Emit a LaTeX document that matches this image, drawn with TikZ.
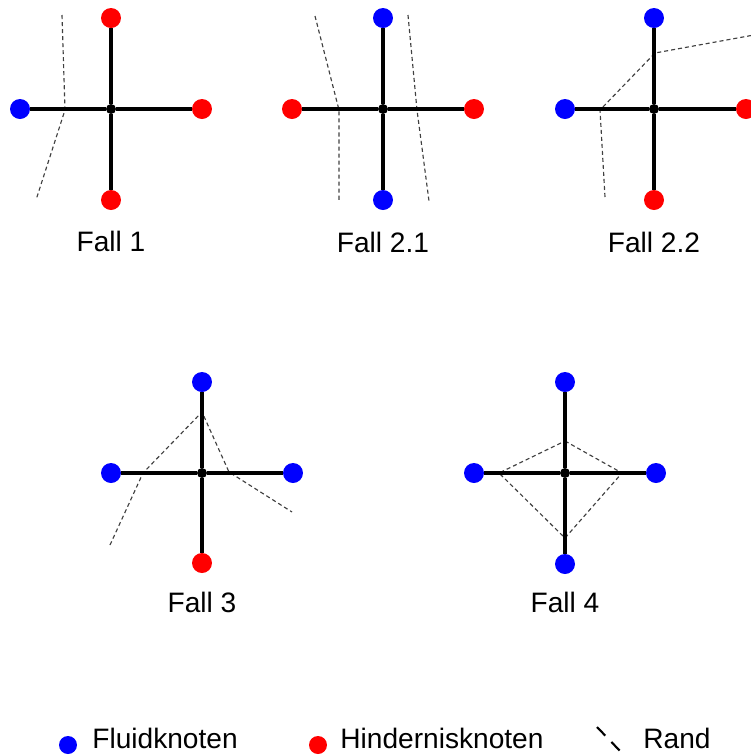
\documentclass[tikz,border=0pt]{standalone}
\usepackage{fontspec}
\setmainfont{Liberation Sans}
\usepackage{tikz}
\definecolor{fluidblue}{RGB}{0,0,255}
\definecolor{hindred}{RGB}{255,0,0}
\tikzset{
  fluid/.style={circle, fill=fluidblue, inner sep=0pt, minimum size=0.4cm},
  hind/.style={circle, fill=hindred, inner sep=0pt, minimum size=0.4cm},
  knot/.style={circle, fill=black, inner sep=0pt, minimum size=0.2cm},
  stab/.style={line width=2pt, black},
  rand/.style={line width=0.65pt, black!75, dash pattern=on 2.3pt off 1.7pt},
  fall/.style={anchor=base, inner sep=0pt, font=\fontsize{16}{19}\selectfont},
  legtext/.style={anchor=base west, inner sep=0pt, font=\fontsize{16}{19}\selectfont},
}

\begin{document}
\begin{tikzpicture}[x=0.02cm, y=-0.02cm]
\useasboundingbox (0,0) rectangle (751,755);

% Fall 1
\begin{scope}[shift={(111,109)}]
    \draw[rand] (-49,-94) -- (-46,1) -- (-75,91);
    \node[knot] (c1) at (0,0) {};
    \node[hind] (n1) at (0,-91) {};
    \node[hind] (s1) at (0,91) {};
    \node[fluid] (w1) at (-91,0) {};
    \node[hind] (e1) at (91,0) {};
    \draw[stab] (c1) -- (n1);
    \draw[stab] (c1) -- (s1);
    \draw[stab] (c1) -- (w1);
    \draw[stab] (c1) -- (e1);
    \node[fall] (l1) at (0,142) {Fall 1};
\end{scope}

% Fall 2.1
\begin{scope}[shift={(383,109)}]
    \draw[rand] (-68,-93) -- (-44,1) -- (-44,93);
    \draw[rand] (25,-94) -- (34,1) -- (46,92);
    \node[knot] (c21) at (0,0) {};
    \node[fluid] (n21) at (0,-91) {};
    \node[fluid] (s21) at (0,91) {};
    \node[hind] (w21) at (-91,0) {};
    \node[hind] (e21) at (91,0) {};
    \draw[stab] (c21) -- (n21);
    \draw[stab] (c21) -- (s21);
    \draw[stab] (c21) -- (w21);
    \draw[stab] (c21) -- (e21);
    \node[fall] (l21) at (0,143) {Fall 2.1};
\end{scope}

% Fall 2.2
\begin{scope}[shift={(654,109)}]
    \draw[rand] (-49,88) -- (-54,1) -- (1,-56) -- (100,-74);
    \node[knot] (c22) at (0,0) {};
    \node[fluid] (n22) at (0,-91) {};
    \node[hind] (s22) at (0,91) {};
    \node[fluid] (w22) at (-89,0) {};
    \node[hind] (e22) at (92,0) {};
    \draw[stab] (c22) -- (n22);
    \draw[stab] (c22) -- (s22);
    \draw[stab] (c22) -- (w22);
    \draw[stab] (c22) -- (e22);
    \node[fall] (l22) at (0,143) {Fall 2.2};
\end{scope}

% Fall 3
\begin{scope}[shift={(202,473)}]
    \draw[rand] (-92,72) -- (-59,0) -- (0,-61) -- (27,-1) -- (90,39);
    \node[knot] (c3) at (0,0) {};
    \node[fluid] (n3) at (0,-91) {};
    \node[hind] (s3) at (0,90) {};
    \node[fluid] (w3) at (-91,0) {};
    \node[fluid] (e3) at (91,0) {};
    \draw[stab] (c3) -- (n3);
    \draw[stab] (c3) -- (s3);
    \draw[stab] (c3) -- (w3);
    \draw[stab] (c3) -- (e3);
    \node[fall] (l3) at (0,139) {Fall 3};
\end{scope}

% Fall 4
\begin{scope}[shift={(565,473)}]
    \draw[rand] (0,-32) -- (57,0) -- (0,65) -- (-66,0) -- cycle;
    \node[knot] (c4) at (0,0) {};
    \node[fluid] (n4) at (0,-91) {};
    \node[fluid] (s4) at (0,91) {};
    \node[fluid] (w4) at (-91,0) {};
    \node[fluid] (e4) at (91,0) {};
    \draw[stab] (c4) -- (n4);
    \draw[stab] (c4) -- (s4);
    \draw[stab] (c4) -- (w4);
    \draw[stab] (c4) -- (e4);
    \node[fall] (l4) at (0,139) {Fall 4};
\end{scope}

% Legende
\node[fluid, minimum size=0.36cm] (legfluid) at (68,745) {};
\node[legtext] (txtfluid) at (92,748) {Fluidknoten};
\node[hind, minimum size=0.36cm] (leghind) at (318,745) {};
\node[legtext] (txthind) at (340,748) {Hindernisknoten};
\draw[line width=1.2pt, black, dash pattern=on 6.8pt off 5pt] (597,727) -- (621,752);
\node[legtext] (txtrand) at (643,748) {Rand};
\end{tikzpicture}
\end{document}
